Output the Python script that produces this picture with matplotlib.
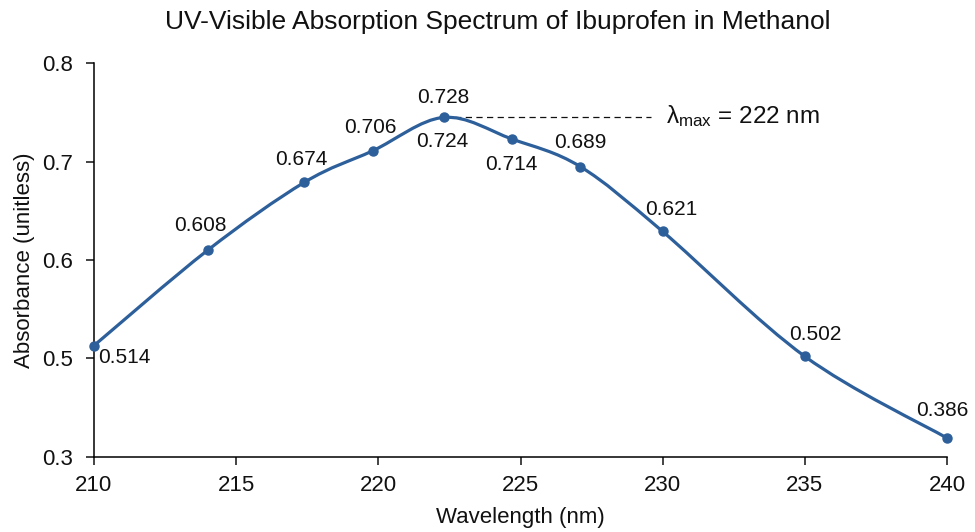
import matplotlib
matplotlib.use('Agg')

from matplotlib import pyplot as plt
from matplotlib.path import Path
from matplotlib.patches import PathPatch
import numpy as np

plt.rcParams['font.family'] = ['Liberation Sans', 'DejaVu Sans']
plt.rcParams['mathtext.fontset'] = 'custom'
plt.rcParams['mathtext.rm'] = 'Liberation Sans'
plt.rcParams['mathtext.it'] = 'Liberation Sans:italic'

# measured point positions (nm, absorbance as drawn on the axis)
wavelength = [210, 214, 217.4, 219.8, 222.3, 224.7, 227.1, 230, 235, 240]
absorbance = [0.513, 0.610, 0.679, 0.711, 0.745, 0.723, 0.695, 0.629, 0.502, 0.419]

# printed value labels and where they sit relative to each point (px)
value_labels = ['0.514', '0.608', '0.674', '0.706', '0.728', '0.714', '0.689', '0.621', '0.502', '0.386']
label_offsets = [(30, -12), (-7, 25), (-3, 23), (-2, 23), (0, 20), (-1, -25), (0, 24), (9, 22), (10, 22), (-5, 28)]
extra_label = '0.724'

ytick_pos = [0.4, 0.5, 0.6, 0.7, 0.8]
ytick_labels = ['0.3', '0.5', '0.6', '0.7', '0.8']
xticks = [210, 215, 220, 225, 230, 235, 240]

blue = '#2D5F9B'
ink = '#111111'

fig = plt.figure(figsize=(9.75, 5.32), dpi=100)
ax = fig.add_axes([0.0964, 0.1415, 0.8749, 0.7395])
ax.spines['right'].set_visible(False)
ax.spines['top'].set_visible(False)
ax.spines['left'].set_linewidth(1.1)
ax.spines['bottom'].set_linewidth(1.1)
ax.set_xlim(210, 240)
ax.set_ylim(0.4, 0.8)
ax.set_xticks(xticks)
ax.set_yticks(ytick_pos)
ax.set_yticklabels(ytick_labels)
ax.tick_params(direction='out', length=6, width=1.1, labelsize=16, colors=ink)
ax.tick_params(axis='x', pad=7)
ax.tick_params(axis='y', pad=9)

# smoothed line, excel style (cubic bezier through the points)
x = np.array(wavelength)
y = np.array(absorbance)
n = len(x)
verts = [(x[0], y[0])]
codes = [Path.MOVETO]
for i in range(n - 1):
    x0, y0 = (x[i - 1], y[i - 1]) if i > 0 else (x[i], y[i])
    x3, y3 = (x[i + 2], y[i + 2]) if i + 2 < n else (x[i + 1], y[i + 1])
    c1 = (x[i] + (x[i + 1] - x0) / 6, y[i] + (y[i + 1] - y0) / 6)
    c2 = (x[i + 1] - (x3 - x[i]) / 6, y[i + 1] - (y3 - y[i]) / 6)
    verts += [c1, c2, (x[i + 1], y[i + 1])]
    codes += [Path.CURVE4] * 3
ax.add_patch(PathPatch(Path(verts, codes), facecolor='none', edgecolor=blue,
                       lw=2.3, capstyle='round', zorder=3, clip_on=False))
ax.plot(wavelength, absorbance, 'o', color=blue, ms=6.5, zorder=4, clip_on=False)

for xi, yi, lab, (dx, dy) in zip(wavelength, absorbance, value_labels, label_offsets):
    ax.annotate(lab, (xi, yi), xytext=(dx, dy), textcoords='offset pixels',
                ha='center', va='center', fontsize=15, color=ink)
imax = int(np.argmax(absorbance))
ax.annotate(extra_label, (wavelength[imax], absorbance[imax]), xytext=(-1, -24),
            textcoords='offset pixels', ha='center', va='center', fontsize=15, color=ink)

# lambda max marker
ax.plot([wavelength[imax], 229.6], [absorbance[imax]] * 2, '--', color=ink, lw=0.9,
        dashes=(5, 3.5), zorder=2)
ax.text(230.1, absorbance[imax] + 0.001, r'$\mathrm{λ}_{\mathrm{max}}$ = 222 nm', fontsize=17.5,
        va='center', ha='left', color=ink)

ax.set_xlabel('Wavelength (nm)', fontsize=16, labelpad=8, color=ink)
ax.set_ylabel('Absorbance (unitless)', fontsize=16, labelpad=5, color=ink)
fig.text(0.511, 0.958, 'UV-Visible Absorption Spectrum of Ibuprofen in Methanol',
         ha='center', va='center', fontsize=19, color=ink)

fig.savefig('out.png', dpi=100)
